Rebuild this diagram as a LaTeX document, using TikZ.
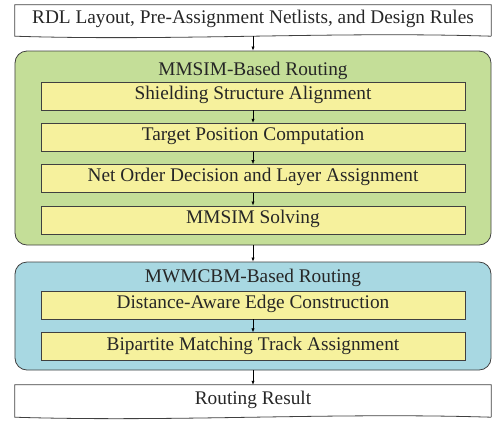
\documentclass[tikz,border=0pt]{standalone}
\usepackage{fontspec}
\setmainfont{Liberation Serif}
\usetikzlibrary{arrows.meta, positioning, calc}
\definecolor{mmgreen}{RGB}{196,222,152}
\definecolor{mwblue}{RGB}{168,216,226}
\definecolor{stepyellow}{RGB}{246,241,157}
\definecolor{edgegray}{RGB}{64,64,64}

\begin{document}
\begin{tikzpicture}[
  x=1bp, y=1bp,
  font=\rmfamily\fontsize{19.3bp}{22bp}\selectfont,
  text=black!85,
  >={Latex[length=4bp,width=3.2bp]},
  io/.style={
    rectangle, minimum width=476bp, minimum height=31bp, inner sep=0pt,
    text height=0.9em, text depth=0.24em
  },
  group/.style={
    rectangle, draw=edgegray, line width=0.8bp, rounded corners=12bp,
    minimum width=476bp, inner sep=0pt
  },
  stage/.style={
    rectangle, draw=edgegray, line width=0.8bp, fill=stepyellow,
    minimum width=424bp, minimum height=28bp, inner sep=0pt,
    text height=0.9em, text depth=0.24em
  },
  title/.style={anchor=base, inner sep=0pt},
  flow/.style={line width=0.6bp, ->, color=black}
]
\useasboundingbox (0,0) rectangle (493,-423);

% Input and output
\node[io] (input) at (253,-20.5) {RDL Layout, Pre-Assignment Netlists, and Design Rules};
\node[io, minimum height=32bp] (result) at (253,-401) {Routing Result};
\foreach \n in {input,result}
  \draw[edgegray, line width=0.8bp] (\n.south east) -- (\n.north east) -- (\n.north west)
    -- (\n.south west) .. controls +(160,-5) and +(-160,5) .. (\n.south east);

% Routing stages
\node[group, fill=mmgreen, minimum height=194bp] (mmsim) at (253,-148) {};
\node[title] (mmsimtitle) at (253,-75) {MMSIM-Based Routing};
\node[stage] (align) at (253,-96) {Shielding Structure Alignment};
\node[stage, below=12.5bp of align] (target) {Target Position Computation};
\node[stage, below=12.5bp of target] (order) {Net Order Decision and Layer Assignment};
\node[stage, below=12.5bp of order] (solve) {MMSIM Solving};

\node[group, fill=mwblue, minimum height=108bp] (mwm) at (253,-316) {};
\node[title] (mwmtitle) at (253,-282) {MWMCBM-Based Routing};
\node[stage] (edge) at (253,-305) {Distance-Aware Edge Construction};
\node[stage, below=13bp of edge] (match) {Bipartite Matching Track Assignment};

% Flow arrows
\draw[flow] (input.south) -- (mmsim.north);
\draw[flow] (align) -- (target);
\draw[flow] (target) -- (order);
\draw[flow] (order) -- (solve);
\draw[flow] (mmsim.south) -- (mwm.north);
\draw[flow] (edge) -- (match);
\draw[flow] (mwm.south) -- (result.north);

\end{tikzpicture}
\end{document}
